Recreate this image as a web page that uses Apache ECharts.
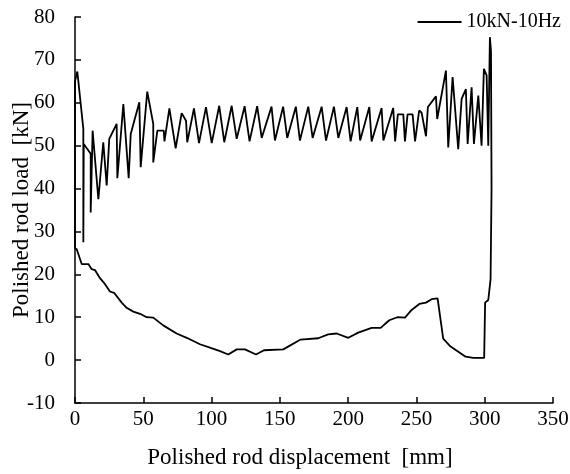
<!DOCTYPE html>
<html>
<head>
<meta charset="utf-8">
<script src="https://cdn.jsdelivr.net/npm/echarts@6/dist/echarts.min.js"></script>
<style>
html,body{margin:0;padding:0;background:#fff;}
#c{width:570px;height:474px;}
</style>
</head>
<body>
<div id="c"></div>
<script>
// Upper (upstroke) branch, left to right
const upperX = [0,0,1.7,6.1,6.1,6.4,11.5,11.5,12.9,17.1,20.7,23.2,25.1,30.5,31.0,35.4,39.3,40.8,47.1,48.1,52.9,57.3,57.3,60.3,65.0,65.5,69.1,73.7,78.1,81.3,82.2,87.1,90.8,95.9,100.1,105.6,109.3,114.7,118.4,124.2,127.8,133.4,136.7,143.9,146.4,152.4,155.4,161.7,164.7,170.8,174.0,180.6,183.8,189.6,192.8,198.9,201.8,206.7,208.8,215.5,217.2,224.5,225.8,233.0,234.4,236.4,240.4,241.6,243.5,247.2,249.0,252.0,253.8,257.0,258.4,264.3,265.2,271.6,273.3,276.5,280.6,283.1,286.2,287.5,290.4,292.1,295.3,297.7,299.4,301.4,302.6,303.8,304.6,305.0,304.3,302.6,300.3,299.6];
const upperY = [26,65,67.3,53.9,27.5,50.4,48.1,34.4,53.5,37.5,50.8,40.7,51.6,55.1,42.4,59.7,42.4,52.7,60.1,45.0,62.6,55.1,46.1,53.5,53.5,51.0,58.7,49.4,57.6,55.8,50.8,58.7,50.6,59.0,50.6,59.3,50.8,59.3,51.6,59.2,51.0,59.2,51.8,59.1,51.2,59.1,51.8,59.1,51.2,59.1,51.8,59.1,51.2,59.1,51.8,59.0,51.0,59.0,51.2,59.0,51.0,58.8,51.2,58.8,51.0,57.3,57.3,51.0,57.3,57.3,51.0,58.2,57.7,52.2,59.0,61.5,56.2,67.5,49.6,66.0,49.2,60.9,63.2,50.4,63.6,50.4,61.7,50.0,67.9,66.4,50.0,75.3,72.0,40.0,18.9,14.0,13.4,0.5];
// Lower (downstroke) branch, right to left
const lowerX = [291.6,286.0,274.5,269.6,265.5,261.1,257.0,252.1,246.5,241.6,236.0,230.1,223.8,217.2,207.4,200.1,191.6,185.4,178.1,165.2,152.5,138.4,132.5,124.5,118.4,112.2,106.2,98.8,91.5,81.8,74.4,64.6,57.3,52.5,47.6,42.7,37.8,34.2,28.6,25.6,22.0,18.3,14.6,12.2,9.8,4.9,1.2,0];
const lowerY = [0.5,0.8,3.3,5.0,14.4,14.2,13.4,13.1,11.7,9.9,10.0,9.3,7.5,7.5,6.4,5.2,6.2,6.0,5.1,4.8,2.5,2.3,1.3,2.5,2.5,1.3,2.1,2.9,3.7,5.2,6.2,8.1,9.9,10.0,10.8,11.3,12.2,13.4,15.7,16.0,17.7,19.1,21.0,21.2,22.4,22.4,25.9,26];
const xTicks = {min:0, max:350, interval:50};
const yTicks = {min:-10, max:80, interval:10};
const seriesName = '10kN-10Hz';
const xName = 'Polished rod displacement  [mm]';
const yName = 'Polished rod load  [kN]';

const data = [];
upperX.forEach((x,i)=>data.push([x, upperY[i]]));
lowerX.forEach((x,i)=>data.push([x, lowerY[i]]));

const font = '"Liberation Serif","Times New Roman",serif';
const chart = echarts.init(document.getElementById('c'), null, {renderer:'canvas'});
chart.setOption({
  animation:false,
  backgroundColor:'#fff',
  grid:{left:75,right:17,top:17,bottom:71,containLabel:false,outerBoundsMode:'none'},
  legend:{
    top:7,right:4,
    itemWidth:44,itemHeight:2,icon:'rect',itemGap:6,
    textStyle:{fontFamily:font,fontSize:20,color:'#000'},
    data:[{name:seriesName,itemStyle:{color:'#000'}}]
  },
  xAxis:{
    type:'value',min:xTicks.min,max:xTicks.max,interval:xTicks.interval,
    name:xName,nameLocation:'middle',nameGap:43,nameMoveOverlap:false,
    nameTextStyle:{fontFamily:font,fontSize:23,color:'#000',padding:[0,28,0,0]},
    axisLine:{show:true,onZero:false,lineStyle:{color:'#000',width:1.5}},
    axisTick:{show:true,inside:true,length:6,lineStyle:{color:'#000',width:1.5}},
    axisLabel:{fontFamily:font,fontSize:21,color:'#000',margin:6},
    splitLine:{show:false}
  },
  yAxis:{
    type:'value',min:yTicks.min,max:yTicks.max,interval:yTicks.interval,
    name:yName,nameLocation:'middle',nameGap:42,nameMoveOverlap:false,
    nameTextStyle:{fontFamily:font,fontSize:23,color:'#000'},
    axisLine:{show:true,onZero:false,lineStyle:{color:'#000',width:1.5}},
    axisTick:{show:true,inside:true,length:6,lineStyle:{color:'#000',width:1.5}},
    axisLabel:{fontFamily:font,fontSize:21,color:'#000',margin:20},
    splitLine:{show:false}
  },
  series:[{
    name:seriesName,type:'line',data:data,
    showSymbol:false,symbol:'none',
    lineStyle:{color:'#000',width:1.8},
    itemStyle:{color:'#000'}
  }]
});
</script>
</body>
</html>
